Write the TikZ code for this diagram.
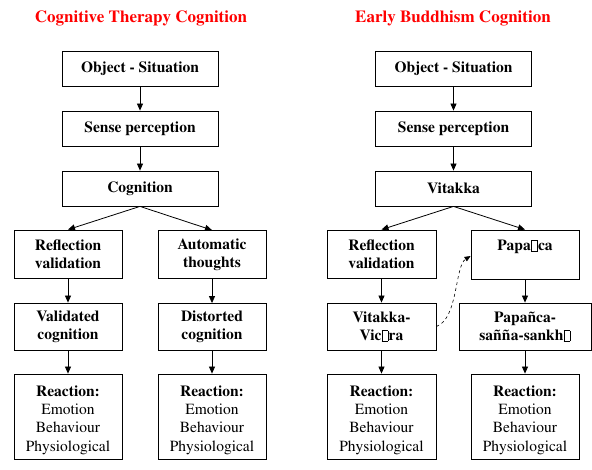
\documentclass[tikz,border=0pt]{standalone}
\usepackage[T1]{fontenc}
\usepackage{times}
\usetikzlibrary{arrows.meta}
\newcommand{\nogl}{\kern0.6pt\framebox(6,10){}\kern0.6pt}
\newcommand{\reaz}{\rule{0pt}{18pt}\textbf{Reaction:}\\Emotion\\Behaviour\\Physiological}
\begin{document}
\begin{tikzpicture}[x=1pt,y=-1pt,
	box/.style={draw, line width=0.8pt, align=center, inner sep=0pt,
		font=\fontsize{15.5}{18}\selectfont\bfseries},
	wide/.style={box, minimum width=156pt, minimum height=35pt},
	small/.style={box, minimum width=108pt, minimum height=48pt},
	react/.style={box, minimum width=108pt, minimum height=85pt,
		font=\fontsize{15.5}{18.3}\selectfont},
	title/.style={text=red, font=\fontsize{17}{20}\selectfont\bfseries},
	arr/.style={-{Triangle[length=7pt,width=6pt]}, line width=0.8pt}]
	\useasboundingbox (0,0) rectangle (592,470);
	% titoli
	\node[title] (t1) at (141,18) {Cognitive Therapy Cognition};
	\node[title] (t2) at (453,18) {Early Buddhism Cognition};
	% terapia cognitiva
	\node[wide] (obj1) at (140,68.5) {Object - Situation};
	\node[wide] (sen1) at (140,128.5) {Sense perception};
	\node[wide] (cog1) at (140,188.5) {Cognition};
	\node[small] (ref1) at (68,254) {Reflection\\validation};
	\node[small] (aut1) at (212,254.5) {Automatic\\thoughts};
	\node[small, minimum height=47pt] (val1) at (68,326.5) {Validated\\cognition};
	\node[small, minimum height=47pt] (dis1) at (212,327) {Distorted\\cognition};
	\node[react] (rea1) at (68,416.5) {\reaz};
	\node[react] (rea2) at (212,416.5) {\reaz};
	\draw[arr] (obj1) -- (sen1);
	\draw[arr] (sen1) -- (cog1);
	\draw[arr] (cog1.south) -- (ref1.north);
	\draw[arr] (cog1.south) -- (aut1.north);
	\draw[arr] (ref1) -- (val1);
	\draw[arr] (aut1) -- (dis1);
	\draw[arr] (val1) -- (rea1);
	\draw[arr] (dis1) -- (rea2);
	% buddhismo antico
	\node[wide] (obj2) at (453.5,68.5) {Object - Situation};
	\node[wide] (sen2) at (453.5,128.5) {Sense perception};
	\node[wide] (vit) at (453.5,188.5) {Vitakka};
	\node[small, minimum width=109pt] (ref2) at (381.5,254) {Reflection\\validation};
	\node[small, minimum height=49pt] (pap) at (525,254.5) {Papa\nogl ca\\\mbox{}};
	\node[small, minimum width=109pt, minimum height=47pt] (vv) at (381.5,326.5) {Vitakka-\\Vic\nogl ra};
	\node[small, minimum width=132pt, minimum height=47pt] (pss) at (525,326.5) {Papa\~nca-\\sa\~n\~n\kern0.5pt a-sankh\nogl};
	\node[react, minimum width=109pt] (rea3) at (381.5,416.5) {\reaz};
	\node[react] (rea4) at (525,416.5) {\reaz};
	\draw[arr] (obj2) -- (sen2);
	\draw[arr] (sen2) -- (vit);
	\draw[arr] (vit.south) -- (ref2.north);
	\draw[arr] (vit.south) -- (pap.north);
	\draw[arr] (ref2) -- (vv);
	\draw[arr] (pap) -- (pss);
	\draw[arr] (vv) -- (rea3);
	\draw[arr] (pss) -- (rea4);
	\draw[arr, dashed, line width=0.6pt, -{Triangle[length=6pt,width=5pt]}]
		(vv.east) .. controls +(22,-8) and +(-16,10) .. ([yshift=-1.5pt]pap.west);
\end{tikzpicture}
\end{document}
